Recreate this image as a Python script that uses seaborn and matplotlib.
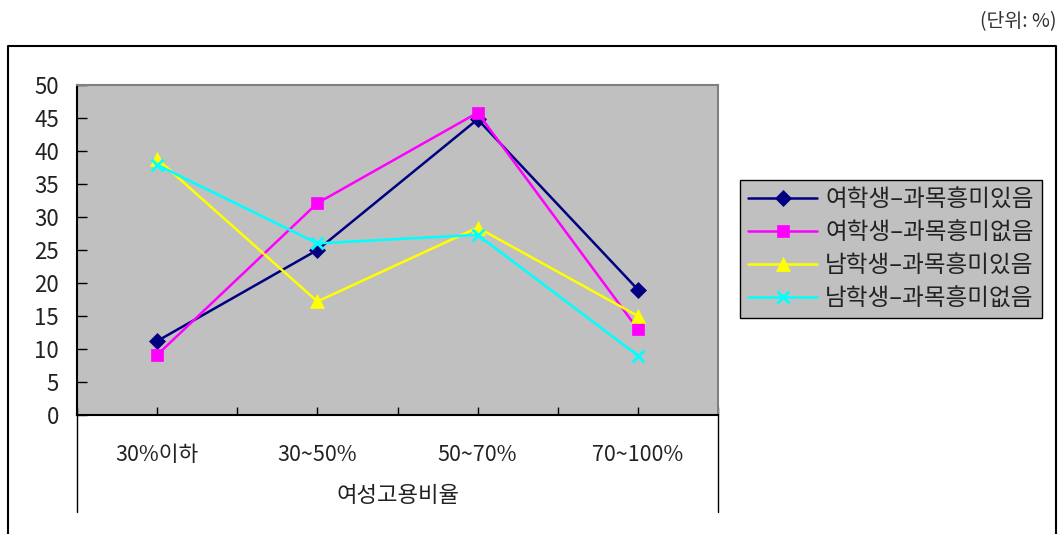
import matplotlib
matplotlib.use("Agg")
import matplotlib.pyplot as plt
from matplotlib.lines import Line2D
import pandas as pd
import seaborn as sns

# Categories (female employment ratio bands)
categories = ["30%이하", "30~50%", "50~70%", "70~100%"]

# Series names
series_names = ["여학생–과목흥미있음", "여학생–과목흥미없음", "남학생–과목흥미있음", "남학생–과목흥미없음"]

# Values (%)
female_interest = [11.2, 25.0, 44.8, 19.0]
female_no_interest = [9.1, 32.1, 45.8, 13.0]
male_interest = [38.8, 17.2, 28.4, 15.0]
male_no_interest = [37.9, 26.0, 27.3, 9.0]

y_ticks = [0, 5, 10, 15, 20, 25, 30, 35, 40, 45, 50]

sns.set_theme(style="white")
plt.rcParams["font.family"] = ["Noto Sans CJK KR", "DejaVu Sans"]

W, H = 1061, 534
fig = plt.figure(figsize=(W / 100, H / 100), dpi=100)

def fx(px):
    return px / W

def fy(py):
    return 1 - py / H

ax = fig.add_axes([fx(77), fy(415), fx(718) - fx(77), fy(85) - fy(415)])
ax.set_facecolor("#C0C0C0")

styles = [
    ("#000080", "D", 8),
    ("#FF00FF", "s", 9),
    ("#FFFF00", "^", 10),
    ("#00FFFF", "x", 9),
]
all_values = [female_interest, female_no_interest, male_interest, male_no_interest]

for name, vals, (col, mk, ms) in zip(series_names, all_values, styles):
    df = pd.DataFrame({"pos": list(range(len(categories))), "value": vals})
    sns.lineplot(
        data=df, x="pos", y="value", ax=ax, color=col, marker=mk,
        markersize=ms, markeredgecolor=col, markerfacecolor=col,
        markeredgewidth=2 if mk == "x" else 0.5, linewidth=1.8,
        label=name, legend=False,
    )

ax.set_xlim(-0.5, len(categories) - 0.5)
ax.set_ylim(0, 50)
ax.set_yticks(y_ticks)
ax.set_xticks(range(len(categories)))
ax.set_xticklabels(categories)
ax.set_xticks([i + 0.5 for i in range(-1, len(categories))], minor=True)
ax.set_xlabel("")
ax.set_ylabel("")

ax.tick_params(axis="y", direction="in", length=7, width=1, color="black",
               labelcolor="#222222", pad=13, left=True)
ax.tick_params(axis="x", which="major", direction="in", length=6, width=1,
               color="black", labelcolor="#222222", pad=21, bottom=True)
ax.tick_params(axis="x", which="minor", direction="in", length=6, width=1,
               color="black", bottom=True)
for lbl in ax.get_yticklabels():
    lbl.set_horizontalalignment("right")
    lbl.set_fontsize(16)
for lbl in ax.get_xticklabels():
    lbl.set_fontsize(15.5)

for side in ["left", "bottom"]:
    ax.spines[side].set_color("black")
    ax.spines[side].set_linewidth(1.5)
for side in ["top", "right"]:
    ax.spines[side].set_color("#808080")
    ax.spines[side].set_linewidth(1.5)
    ax.spines[side].set_visible(True)

# axis title below the categories
fig.text(fx(398), fy(495), "여성고용비율", ha="center", va="center",
         fontsize=16, color="#222222")

# category axis extension lines
for xp in (77, 718):
    fig.add_artist(Line2D([fx(xp), fx(xp)], [fy(415), fy(512)],
                          transform=fig.transFigure, color="black", lw=1))

# outer chart frame
fig.add_artist(Line2D([fx(8), fx(8), fx(1056), fx(1056)],
                      [fy(534), fy(46), fy(46), fy(534)],
                      transform=fig.transFigure, color="black", lw=1.5))

# unit note
fig.text(fx(1057), fy(22), "(단위: %)", ha="right", va="center",
         fontsize=14, color="#333333")

handles, labels = ax.get_legend_handles_labels()
leg = fig.legend(handles, labels, loc="upper left",
                 bbox_to_anchor=(fx(740), fy(180)), frameon=True,
                 facecolor="#C0C0C0", edgecolor="black", framealpha=1,
                 fancybox=False, fontsize=17, handlelength=2.9,
                 handletextpad=0.35, labelspacing=0.42, borderpad=0.35,
                 borderaxespad=0)
leg.get_frame().set_linewidth(1)
for t in leg.get_texts():
    t.set_color("#222222")

fig.savefig("out.png", dpi=100)
